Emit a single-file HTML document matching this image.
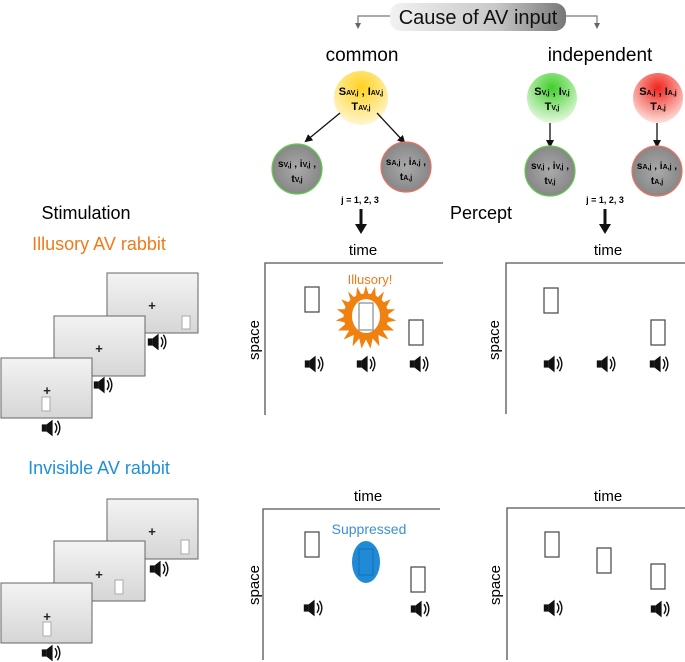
<!DOCTYPE html>
<html><head><meta charset="utf-8"><style>
html,body{margin:0;padding:0;background:#fff;}
svg{display:block;font-family:"Liberation Sans",sans-serif;}
</style></head><body>
<svg width="685" height="662" viewBox="0 0 685 662" xmlns="http://www.w3.org/2000/svg">
<defs>
<linearGradient id="pill" x1="0" y1="0" x2="1" y2="0"><stop offset="0" stop-color="#f2f2f2"/><stop offset="0.6" stop-color="#c8c8c8"/><stop offset="1" stop-color="#777"/></linearGradient>
<radialGradient id="yel" cx="0.5" cy="0.3" r="0.7"><stop offset="0" stop-color="#ffd21f"/><stop offset="1" stop-color="#fff6d0"/></radialGradient>
<radialGradient id="grn" cx="0.5" cy="0.3" r="0.7"><stop offset="0" stop-color="#3fcf2a"/><stop offset="1" stop-color="#e6f8e0"/></radialGradient>
<radialGradient id="red" cx="0.5" cy="0.3" r="0.7"><stop offset="0" stop-color="#f0241a"/><stop offset="1" stop-color="#fde0dc"/></radialGradient>
<radialGradient id="gry" cx="0.5" cy="0.5" r="0.6"><stop offset="0" stop-color="#aaa"/><stop offset="1" stop-color="#808080"/></radialGradient>
<linearGradient id="fr" x1="0" y1="0" x2="0" y2="1"><stop offset="0" stop-color="#f3f3f3"/><stop offset="1" stop-color="#d6d6d6"/></linearGradient>
<marker id="ah" markerWidth="8" markerHeight="8" refX="6" refY="4" orient="auto" markerUnits="userSpaceOnUse"><path d="M0,0 L8,4 L0,8 z" fill="#111"/></marker>
<marker id="ag" markerWidth="6" markerHeight="6" refX="3" refY="3" orient="auto" markerUnits="userSpaceOnUse"><path d="M0,0 L6,3 L0,6 z" fill="#666"/></marker>
<g id="spk" transform="scale(1.2)"><rect x="-6" y="-3" width="4" height="6" fill="#111"/><path d="M-2,-3 L3,-7 L3,7 L-2,3 z" fill="#111"/><path d="M5,-4 Q8,0 5,4 M7,-6 Q11,0 7,6" stroke="#111" stroke-width="1.2" fill="none"/></g>
</defs>

<rect x="390" y="3" width="176" height="28" rx="11" fill="url(#pill)"/>
<text x="478" y="24" font-size="20" text-anchor="middle" fill="#111">Cause of AV input</text>
<path d="M390,16 H358 V26" stroke="#777" stroke-width="1.2" fill="none" marker-end="url(#ag)"/>
<path d="M566,16 H597 V26" stroke="#777" stroke-width="1.2" fill="none" marker-end="url(#ag)"/>
<text x="362" y="61" font-size="19" text-anchor="middle">common</text>
<text x="600" y="61" font-size="19" text-anchor="middle">independent</text>

<circle cx="361" cy="98" r="27" fill="url(#yel)"/>
<text x="361" y="95" font-size="11" font-weight="bold" text-anchor="middle">S<tspan font-size="7">AV,j</tspan> , I<tspan font-size="7">AV,j</tspan></text>
<text x="361" y="110" font-size="11" font-weight="bold" text-anchor="middle">T<tspan font-size="7">AV,j</tspan></text>
<circle cx="552" cy="98" r="25" fill="url(#grn)"/>
<text x="552" y="95" font-size="11" font-weight="bold" text-anchor="middle">S<tspan font-size="7">V,j</tspan> , I<tspan font-size="7">V,j</tspan></text>
<text x="552" y="110" font-size="11" font-weight="bold" text-anchor="middle">T<tspan font-size="7">V,j</tspan></text>
<circle cx="658" cy="98" r="25" fill="url(#red)"/>
<text x="658" y="95" font-size="11" font-weight="bold" text-anchor="middle">S<tspan font-size="7">A,j</tspan> , I<tspan font-size="7">A,j</tspan></text>
<text x="658" y="110" font-size="11" font-weight="bold" text-anchor="middle">T<tspan font-size="7">A,j</tspan></text>

<line x1="340" y1="113" x2="306" y2="141" stroke="#111" stroke-width="1.3" marker-end="url(#ah)"/>
<line x1="377" y1="113" x2="404" y2="142" stroke="#111" stroke-width="1.3" marker-end="url(#ah)"/>
<line x1="550" y1="123" x2="550" y2="146" stroke="#111" stroke-width="1.3" marker-end="url(#ah)"/>
<line x1="657" y1="123" x2="657" y2="146" stroke="#111" stroke-width="1.3" marker-end="url(#ah)"/>

<g font-size="10" font-weight="bold" text-anchor="middle">
<circle cx="297" cy="169" r="25" fill="url(#gry)" stroke="#5ecf4a" stroke-width="1.2"/>
<text x="297" y="167">s<tspan font-size="7">V,j</tspan> , i<tspan font-size="7">V,j</tspan> ,</text><text x="297" y="182">t<tspan font-size="7">V,j</tspan></text>
<circle cx="406" cy="167" r="25" fill="url(#gry)" stroke="#f07060" stroke-width="1.2"/>
<text x="406" y="165">s<tspan font-size="7">A,j</tspan> , i<tspan font-size="7">A,j</tspan> ,</text><text x="406" y="180">t<tspan font-size="7">A,j</tspan></text>
<circle cx="550" cy="171" r="25" fill="url(#gry)" stroke="#5ecf4a" stroke-width="1.2"/>
<text x="550" y="169">s<tspan font-size="7">V,j</tspan> , i<tspan font-size="7">V,j</tspan> ,</text><text x="550" y="184">t<tspan font-size="7">V,j</tspan></text>
<circle cx="657" cy="171" r="25" fill="url(#gry)" stroke="#f07060" stroke-width="1.2"/>
<text x="657" y="169">s<tspan font-size="7">A,j</tspan> , i<tspan font-size="7">A,j</tspan> ,</text><text x="657" y="184">t<tspan font-size="7">A,j</tspan></text>
<text x="360" y="203" font-size="9">j = 1, 2, 3</text>
<text x="605" y="203" font-size="9">j = 1, 2, 3</text>
</g>
<path d="M361,209 V226" stroke="#111" stroke-width="3"/><path d="M355,224 L367,224 L361,234 z" fill="#111"/>
<path d="M605,209 V226" stroke="#111" stroke-width="3"/><path d="M599,224 L611,224 L605,234 z" fill="#111"/>

<text x="86" y="219" font-size="18" text-anchor="middle">Stimulation</text>
<text x="99" y="250" font-size="18" text-anchor="middle" fill="#f07a1a">Illusory AV rabbit</text>
<text x="481" y="219" font-size="18" text-anchor="middle">Percept</text>
<text x="99" y="474" font-size="18" text-anchor="middle" fill="#1e90d8">Invisible AV rabbit</text>

<g stroke="#666" stroke-width="1">
<rect x="107" y="273" width="91" height="60" fill="url(#fr)"/>
<rect x="54" y="316" width="91" height="60" fill="url(#fr)"/>
<rect x="1" y="358" width="91" height="60" fill="url(#fr)"/>
<rect x="182" y="316" width="8" height="13" fill="#fff" stroke="#aaa"/>
<rect x="42" y="397" width="8" height="14" fill="#fff" stroke="#aaa"/>
<rect x="107" y="499" width="91" height="60" fill="url(#fr)"/>
<rect x="54" y="541" width="91" height="60" fill="url(#fr)"/>
<rect x="1" y="583" width="91" height="60" fill="url(#fr)"/>
<rect x="181" y="540" width="8" height="14" fill="#fff" stroke="#aaa"/>
<rect x="115" y="580" width="8" height="14" fill="#fff" stroke="#aaa"/>
<rect x="43" y="622" width="8" height="14" fill="#fff" stroke="#aaa"/>
</g>
<g font-size="13" font-weight="bold" text-anchor="middle" fill="#222">
<text x="152" y="310">+</text><text x="99" y="353">+</text><text x="47" y="395">+</text>
<text x="152" y="536">+</text><text x="99" y="579">+</text><text x="47" y="621">+</text>
</g>
<use href="#spk" x="155" y="342"/><use href="#spk" x="101" y="385"/><use href="#spk" x="49" y="428"/>
<use href="#spk" x="157" y="569"/><use href="#spk" x="49" y="653"/>

<g stroke="#555" stroke-width="1.3" fill="none">
<path d="M265,415 V263 H443"/>
<path d="M506,414 V263 H685"/>
<path d="M263,660 V509 H440"/>
<path d="M507,660 V508 H685"/>
</g>
<g font-size="15" text-anchor="middle">
<text x="363" y="255">time</text><text x="608" y="255">time</text>
<text x="368" y="501">time</text><text x="608" y="501">time</text>
<text transform="translate(259,340) rotate(-90)">space</text>
<text transform="translate(499,340) rotate(-90)">space</text>
<text transform="translate(259,585) rotate(-90)">space</text>
<text transform="translate(500,585) rotate(-90)">space</text>
</g>
<text x="370" y="284" font-size="13" text-anchor="middle" fill="#f07a1a">Illusory!</text>
<g transform="translate(366,316) scale(1.12) translate(-366,-316)">
<polygon fill="#f08010" points="366,289 369,299 374,290 375,301 382,294 379,305 388,301 383,310 392,310 384,316 393,320 383,322 391,329 381,329 386,337 377,333 378,343 372,336 370,345 366,337 362,345 360,336 354,343 355,333 346,337 351,329 341,329 349,322 339,320 348,316 340,310 349,310 344,301 353,305 350,294 357,301 358,290 363,299"/>
<circle cx="366" cy="316" r="20" fill="#f08010"/>
</g>
<ellipse cx="366" cy="316" rx="14" ry="17" fill="#fff"/>
<g fill="#fff" stroke="#444" stroke-width="1.2">
<rect x="305" y="287" width="14" height="25"/>
<rect x="359" y="303" width="14" height="27" stroke="#888"/>
<rect x="409" y="320" width="14" height="25"/>
<rect x="544" y="288" width="14" height="25"/>
<rect x="651" y="320" width="14" height="25"/>
<rect x="305" y="532" width="14" height="25"/>
<rect x="411" y="567" width="14" height="25"/>
<rect x="545" y="532" width="14" height="25"/>
<rect x="597" y="548" width="14" height="25"/>
<rect x="651" y="564" width="14" height="25"/>
</g>
<text x="369" y="534" font-size="14" text-anchor="middle" fill="#3a8fd6">Suppressed</text>
<ellipse cx="366" cy="562" rx="14" ry="21" fill="#1f8ad6"/>
<rect x="359" y="549" width="14" height="26" fill="none" stroke="#1a6fb0"/>
<use href="#spk" x="312" y="364"/><use href="#spk" x="364" y="364"/><use href="#spk" x="417" y="364"/>
<use href="#spk" x="551" y="364"/><use href="#spk" x="604" y="364"/><use href="#spk" x="657" y="364"/>
<use href="#spk" x="311" y="608"/><use href="#spk" x="418" y="609"/>
<use href="#spk" x="551" y="608"/><use href="#spk" x="658" y="609"/>
</svg>
</body></html>
